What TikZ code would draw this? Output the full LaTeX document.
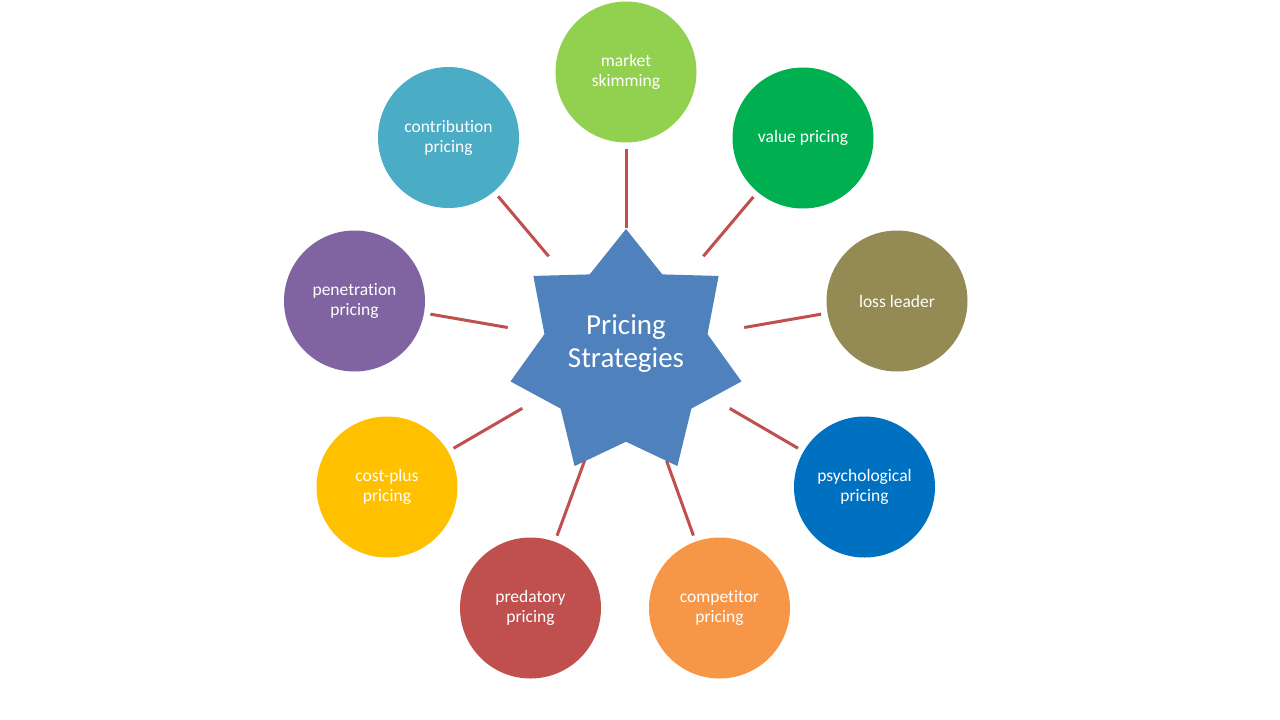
\documentclass[tikz,border=0pt]{standalone}
\usepackage{fontspec}
\setmainfont{Carlito}[Ligatures=NoCommon]
\usetikzlibrary{shapes.geometric}
\definecolor{hubblue}{HTML}{4F81BD}
\definecolor{linkred}{HTML}{C0504D}
\definecolor{skimgreen}{HTML}{92D050}
\definecolor{valuegreen}{HTML}{00B050}
\definecolor{lossolive}{HTML}{948A54}
\definecolor{psychblue}{HTML}{0070C0}
\definecolor{comporange}{HTML}{F79646}
\definecolor{predred}{HTML}{C0504D}
\definecolor{costgold}{HTML}{FFC000}
\definecolor{penpurple}{HTML}{8064A2}
\definecolor{contribteal}{HTML}{4BACC6}

\begin{document}
\begin{tikzpicture}[x=1pt,y=-1pt,
  bubble/.style={circle,minimum size=141pt,inner sep=0pt,outer sep=0pt,text=white,align=center,font=\fontsize{17.5}{20}\selectfont},
  hub/.style={star,star points=7,star point ratio=1.417,minimum size=249.4pt,inner sep=0pt,xscale=0.95,fill=hubblue},
  hubtext/.style={text=white,align=center,font=\fontsize{29}{33}\selectfont},
  link/.style={draw=linkred,line width=3pt,shorten <=120pt,shorten >=6.5pt}]
\useasboundingbox (0,0) rectangle (1280,720);
\fill[white] (0,0) rectangle (1280,720);
\node[hub] (hub) at (626,353.7) {};
\node[hubtext] (title) at (626,344) {Pricing\\Strategies};
\coordinate (o) at (626,348);
\node[bubble,fill=skimgreen] (skim) at (626,72) {market\\skimming};
\node[bubble,fill=valuegreen] (value) at (803,138) {value pricing};
\node[bubble,fill=lossolive] (loss) at (897,301) {loss leader};
\node[bubble,fill=psychblue] (psych) at (864.5,487) {psychological\\pricing};
\node[bubble,fill=comporange] (comp) at (719.5,608) {competitor\\pricing};
\node[bubble,fill=predred] (pred) at (530.5,608) {predatory\\pricing};
\node[bubble,fill=costgold] (cost) at (387,487) {cost-plus\\pricing};
\node[bubble,fill=penpurple] (pen) at (354.5,301) {penetration\\pricing};
\node[bubble,fill=contribteal] (contrib) at (448.5,137.5) {contribution\\pricing};
\draw[link] (o) -- (skim);
\draw[link] (o) -- (value);
\draw[link] (o) -- (loss);
\draw[link] (o) -- (psych);
\draw[link] (o) -- (comp);
\draw[link] (o) -- (pred);
\draw[link] (o) -- (cost);
\draw[link] (o) -- (pen);
\draw[link] (o) -- (contrib);
\end{tikzpicture}
\end{document}
